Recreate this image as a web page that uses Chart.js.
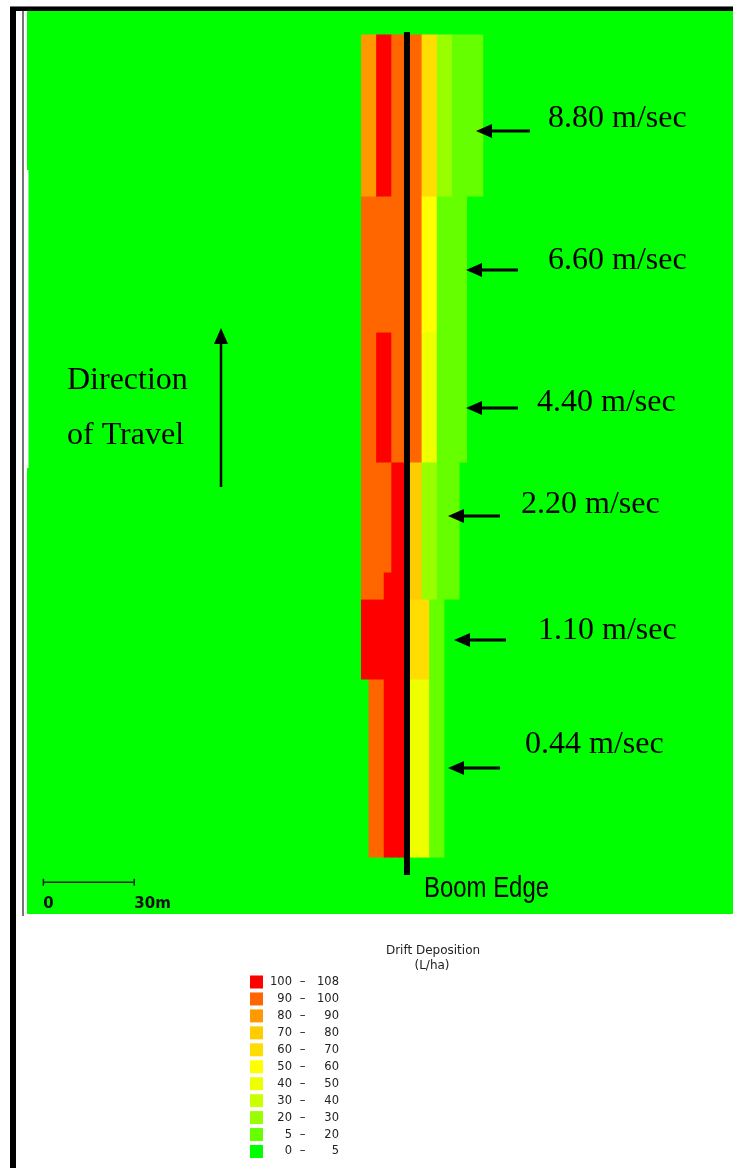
<!DOCTYPE html>
<html>
<head>
<meta charset="utf-8">
<title>Drift Deposition</title>
<script src="https://cdn.jsdelivr.net/npm/chart.js@4"></script>
<style>
    html, body { margin: 0; padding: 0; background: #fff; overflow: hidden; }
    #wrap { position: relative; width: 733px; height: 1168px; }
</style>
</head>
<body>
<div id="wrap"><canvas id="driftChart"></canvas></div>
<script>
// Wind speed of each pass (m/sec), top to bottom
const windSpeeds = ['8.80', '6.60', '4.40', '2.20', '1.10', '0.44'];

// Centre of each 2.5 m cell across the boom (m), boom edge at 0
const crossTrack = [-13.75, -11.25, -8.75, -6.25, -3.75, -1.25, 1.25, 3.75,
    6.25, 8.75, 11.25, 13.75, 16.25, 18.75, 21.25, 23.75];

// Row edges along the direction of travel (m), top to bottom
const rowEdges = [290.1, 236.6, 191.7, 148.8, 112.5, 103.6, 77.2, 18.8];

const dep880 = [85, 85, 104, 104, 95, 95, 95, 95, 65, 65, 25, 25, 12, 12, 12, 12];
const dep660 = [95, 95, 95, 95, 95, 95, 95, 95, 55, 55, 12, 12, 12, 12, 2, 2];
const dep440 = [95, 95, 104, 104, 95, 95, 95, 95, 45, 45, 12, 12, 12, 12, 2, 2];
const dep220a = [95, 95, 95, 95, 104, 104, 75, 75, 25, 25, 12, 12, 12, 2, 2, 2];
const dep220b = [95, 95, 95, 104, 104, 104, 75, 75, 25, 25, 12, 12, 12, 2, 2, 2];
const dep110 = [104, 104, 104, 104, 104, 104, 65, 65, 65, 12, 12, 2, 2, 2, 2, 2];
const dep044 = [2, 95, 95, 104, 104, 104, 45, 45, 45, 12, 12, 2, 2, 2, 2, 2];
const rows = [dep880, dep660, dep440, dep220a, dep220b, dep110, dep044];

// Boom edge line (m along travel) and the 30 m scale bar (m across)
const boomEdge = [12.9, 291.1];
const scaleBar = [-120, -90];
const scaleBarY = 10.5;

// Legend classes (L/ha)
const classLow = [100, 90, 80, 70, 60, 50, 40, 30, 20, 5, 0];
const classHigh = [108, 100, 90, 80, 70, 60, 50, 40, 30, 20, 5];
const classColors = ['#ff0000', '#ff6600', '#ff9900', '#ffcc00', '#ffdd00', '#ffff00',
    '#eeff00', '#ccff00', '#99ff00', '#66ff00', '#00ff00'];
const FIELD_GREEN = '#00ff00';

function colorFor(v) {
    for (let k = 0; k < classLow.length; k++) {
        if (v >= classLow[k]) return classColors[k];
    }
    return FIELD_GREEN;
}

// Merge each column into runs of equal deposition, one floating bar per run
const cells = [];
crossTrack.forEach((x, i) => {
    let start = 0;
    for (let r = 1; r <= rows.length; r++) {
        if (r === rows.length || rows[r][i] !== rows[start][i]) {
            cells.push({ x: x, y: [rowEdges[r], rowEdges[start]], v: rows[start][i] });
            start = r;
        }
    }
});

// Arrows and labels for each pass (pixels)
const speedMarks = [
    { tip: 476, tail: 530, ay: 131, tx: 548, ty: 119 },
    { tip: 466, tail: 518, ay: 270, tx: 548, ty: 261 },
    { tip: 466, tail: 518, ay: 408, tx: 537, ty: 403 },
    { tip: 448, tail: 500, ay: 516, tx: 521, ty: 505 },
    { tip: 454, tail: 506, ay: 640, tx: 538, ty: 631 },
    { tip: 448, tail: 500, ay: 768, tx: 525, ty: 745 }
];

function arrowHead(ctx, x, y, dx, dy) {
    // triangle pointing in direction (dx, dy)
    const len = 16, half = 7;
    ctx.beginPath();
    ctx.moveTo(x, y);
    ctx.lineTo(x - dx * len - dy * half, y - dy * len + dx * half);
    ctx.lineTo(x - dx * len + dy * half, y - dy * len - dx * half);
    ctx.closePath();
    ctx.fill();
}

const fieldPlugin = {
    id: 'field',
    beforeDatasetsDraw(chart) {
        const { ctx, chartArea: a } = chart;
        ctx.save();
        ctx.fillStyle = FIELD_GREEN;
        ctx.fillRect(a.left, a.top, a.right - a.left, a.bottom - a.top);
        // ragged white edge on the far left
        ctx.fillStyle = '#ffffff';
        ctx.fillRect(a.left, 170, 1.5, 298);
        ctx.restore();
    },
    afterDraw(chart) {
        const { ctx, chartArea: a, scales } = chart;
        ctx.save();

        // frame
        ctx.fillStyle = '#000';
        ctx.fillRect(10, 6, 6, 1162);
        ctx.fillRect(10, 6, 723, 5);
        ctx.fillStyle = '#777';
        ctx.fillRect(10, 6, 723, 1);
        ctx.fillRect(22, 11, 2, a.bottom - 9);

        // scale bar labels
        ctx.fillStyle = '#111';
        ctx.font = 'bold 15px "DejaVu Sans"';
        ctx.textAlign = 'left';
        ctx.textBaseline = 'alphabetic';
        ctx.fillText('0', scales.x.getPixelForValue(scaleBar[0]), 908);
        ctx.fillText('30m', scales.x.getPixelForValue(scaleBar[1]), 908);

        // Boom Edge label (narrow face)
        ctx.fillStyle = '#000';
        ctx.font = '29px "Liberation Sans"';
        const bw = ctx.measureText('Boom Edge').width;
        ctx.save();
        ctx.translate(424, 897);
        ctx.scale(125 / bw, 1);
        ctx.fillText('Boom Edge', 0, 0);
        ctx.restore();

        // wind speed arrows
        ctx.strokeStyle = '#000';
        ctx.fillStyle = '#000';
        ctx.lineWidth = 3;
        ctx.font = '32px "Liberation Serif"';
        ctx.textBaseline = 'middle';
        speedMarks.forEach((m, i) => {
            ctx.beginPath();
            ctx.moveTo(m.tail, m.ay);
            ctx.lineTo(m.tip + 10, m.ay);
            ctx.stroke();
            arrowHead(ctx, m.tip, m.ay, -1, 0);
            ctx.fillText(windSpeeds[i] + ' m/sec', m.tx, m.ty);
        });

        // direction of travel
        ctx.fillText('Direction', 67, 381);
        ctx.fillText('of Travel', 67, 436);
        ctx.lineWidth = 2.5;
        ctx.beginPath();
        ctx.moveTo(221, 487);
        ctx.lineTo(221, 338);
        ctx.stroke();
        arrowHead(ctx, 221, 328, 0, -1);

        // legend
        ctx.fillStyle = '#222';
        ctx.font = '12px "DejaVu Sans"';
        ctx.textAlign = 'center';
        ctx.textBaseline = 'alphabetic';
        ctx.fillText('Drift Deposition', 433, 954);
        ctx.fillText('(L/ha)', 432, 969);
        ctx.font = '11.5px "DejaVu Sans"';
        ctx.textBaseline = 'middle';
        classLow.forEach((lo, k) => {
            const y = 982 + 16.95 * k;
            ctx.fillStyle = classColors[k];
            ctx.fillRect(250, y - 6.5, 13, 13);
            ctx.fillStyle = '#222';
            ctx.textAlign = 'right';
            ctx.fillText(String(lo), 292, y);
            ctx.fillText(String(classHigh[k]), 339, y);
            ctx.textAlign = 'center';
            ctx.fillText('\u2013', 302.5, y);
        });

        ctx.restore();
    }
};

document.addEventListener('DOMContentLoaded', () => {
    const ctx = document.getElementById('driftChart').getContext('2d');
    new Chart(ctx, {
        type: 'bar',
        data: {
            datasets: [{
                type: 'line',
                label: 'Boom Edge',
                data: boomEdge.map(y => ({ x: 0, y: y })),
                borderColor: '#000',
                borderWidth: 6,
                borderCapStyle: 'butt',
                pointRadius: 0,
                order: 0
            }, {
                type: 'line',
                label: '30m',
                data: scaleBar.map(x => ({ x: x, y: scaleBarY })),
                borderColor: '#222',
                borderWidth: 1.5,
                pointStyle: 'line',
                rotation: 90,
                pointRadius: 3.5,
                pointBorderColor: '#222',
                pointBorderWidth: 1.5,
                order: 0
            }, {
                label: 'Drift Deposition',
                data: cells,
                backgroundColor: c => colorFor(c.raw ? c.raw.v : 0),
                borderWidth: 0,
                barPercentage: 1,
                categoryPercentage: 1,
                inflateAmount: 0.5,
                order: 1
            }]
        },
        options: {
            responsive: true,
            maintainAspectRatio: false,
            animation: false,
            layout: {
                autoPadding: false,
                padding: { left: 27, top: 11, right: 0, bottom: 254 }
            },
            scales: {
                x: { type: 'linear', min: -125.4, max: 107.6, offset: false, display: false },
                y: { type: 'linear', min: 0, max: 298, display: false }
            },
            plugins: {
                legend: { display: false },
                tooltip: { enabled: false }
            }
        },
        plugins: [fieldPlugin]
    });
});
</script>
</body>
</html>
